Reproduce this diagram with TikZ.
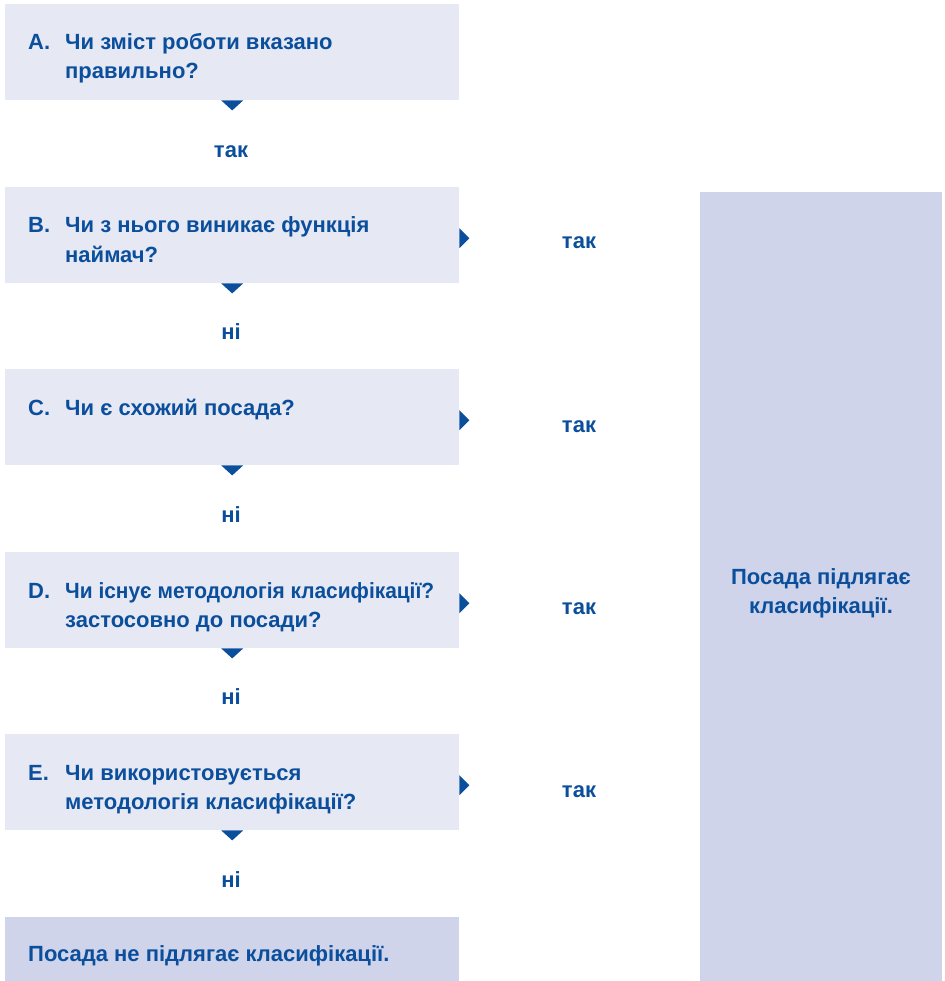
\documentclass[tikz,border=0pt]{standalone}
\usepackage{fontspec}
\setmainfont{Liberation Sans}
\definecolor{txtblue}{HTML}{0B4F9C}
\definecolor{qfill}{HTML}{E6E8F4}
\definecolor{rfill}{HTML}{CFD4EA}
\begin{document}
\begin{tikzpicture}[x=1pt,y=-1pt,
  qbox/.style={fill=qfill, minimum width=454pt, minimum height=96pt, inner sep=0pt, anchor=north west},
  txt/.style={text=txtblue, font=\bfseries\fontsize{22}{29}\selectfont, inner sep=0pt},
  qtxt/.style={txt, align=left, anchor=base west},
  ans/.style={txt, anchor=base},
  tri/.style={fill=txtblue}]
\useasboundingbox (0,0) rectangle (944,981);
% question boxes
\node[qbox] (A) at (5,4) {};
\node[qbox] (B) at (5,187) {};
\node[qbox] (C) at (5,369) {};
\node[qbox] (D) at (5,552) {};
\node[qbox] (E) at (5,734) {};
\node[qbox, fill=rfill, minimum height=64pt] (N) at (5,917) {};
\node[fill=rfill, minimum width=242pt, minimum height=789pt, inner sep=0pt, anchor=north west] (Y) at (700,192) {};
% letters and questions (base = last line)
\node[qtxt] (Al) at (28,50) {A.};
\node[qtxt] (At) at (65,79) {Чи зміст роботи вказано\\правильно?};
\node[qtxt] (Bl) at (28,233) {B.};
\node[qtxt] (Bt) at (65,262) {Чи з нього виникає функція\\наймач?};
\node[qtxt] (Cl) at (28,415) {C.};
\node[qtxt] (Ct) at (65,415) {Чи є схожий посада?};
\node[qtxt] (Dl) at (28,598) {D.};
\node[qtxt] (Dt) at (65,627) {\scalebox{0.95}[1]{Чи існує методологія класифікації?}\\застосовно до посади?};
\node[qtxt] (El) at (28,780) {E.};
\node[qtxt] (Et) at (65,809) {Чи використовується\\методологія класифікації?};
\node[qtxt] (Nt) at (28,961) {Посада не підлягає класифікації.};
\node[txt, align=center] (Yt) at (821,593) {Посада підлягає\\класифікації.};
% down markers
\foreach \b in {A,B,C,D,E}{
  \fill[tri] ([xshift=-11pt]\b.south) -- ([xshift=11pt]\b.south) -- ([yshift=-10pt]\b.south) -- cycle;
}
% right markers
\foreach \b in {B,C,D,E}{
  \fill[tri] ([yshift=7pt]\b.east) -- ([yshift=-13pt]\b.east) -- ([xshift=10pt,yshift=-3pt]\b.east) -- cycle;
}
% answer labels
\node[ans] (a1) at (231,158) {так};
\node[ans] (a2) at (231,339) {ні};
\node[ans] (a3) at (231,522) {ні};
\node[ans] (a4) at (231,704) {ні};
\node[ans] (a5) at (231,887) {ні};
\node[ans] (y1) at (579,249) {так};
\node[ans] (y2) at (579,432) {так};
\node[ans] (y3) at (579,614) {так};
\node[ans] (y4) at (579,797) {так};
\end{tikzpicture}
\end{document}
